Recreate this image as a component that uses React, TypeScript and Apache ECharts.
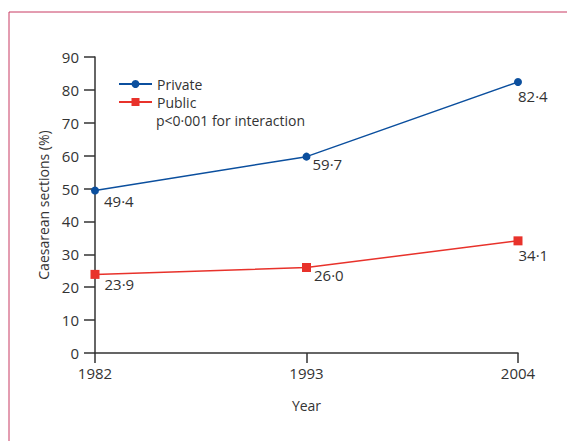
import React, { useEffect, useRef } from "react";
import * as echarts from "echarts";

const years = ["1982", "1993", "2004"];
const privateValues = [49.4, 59.7, 82.4];
const publicValues = [23.9, 26.0, 34.1];
const yTicks = { min: 0, max: 90, interval: 10 };

const fmt = (v: number) => v.toFixed(1).replace(".", "·");

const FONT = "'Open Sans', sans-serif";
const TEXT = "#333333";
const AXIS = "#333333";

export default function App() {
  const ref = useRef<HTMLDivElement>(null);
  useEffect(() => {
    document.body.style.margin = "0";
    const chart = echarts.init(ref.current!, null, { renderer: "svg" });
    const privOffsets = [[0, 10], [-3, 7], [-9, 14]];
    const pubOffsets = [[0, 10], [-2, 8], [-9, 14]];
    chart.setOption({
      animation: false,
      backgroundColor: "#ffffff",
      textStyle: { fontFamily: FONT, color: TEXT },
      grid: { left: 95, right: 49, top: 57, bottom: 88 },
      legend: {
        orient: "vertical",
        left: 113,
        top: 72,
        itemWidth: 33,
        itemHeight: 10,
        itemGap: 4,
        textStyle: { fontFamily: FONT, fontSize: 14, lineHeight: 14, color: TEXT },
        data: ["Private", "Public"],
      },
      graphic: [
        {
          type: "text",
          left: 156,
          top: 113,
          style: { text: "p<0·001 for interaction", fontFamily: FONT, fontSize: 14, lineHeight: 14, fill: TEXT },
        },
        { type: "line", shape: { x1: 9, y1: 12, x2: 567, y2: 12 }, style: { stroke: "#c83a62", lineWidth: 1 } },
        { type: "line", shape: { x1: 9, y1: 12, x2: 9, y2: 441 }, style: { stroke: "#c83a62", lineWidth: 1 } },
      ],
      xAxis: {
        type: "category",
        data: years,
        boundaryGap: false,
        name: "Year",
        nameLocation: "middle",
        nameGap: 45,
        nameTextStyle: { fontFamily: FONT, fontSize: 14, color: TEXT },
        axisLine: { lineStyle: { color: AXIS, width: 1.5 } },
        axisTick: { show: true, length: 10, inside: false, lineStyle: { color: AXIS, width: 1.5 } },
        axisLabel: { fontFamily: FONT, fontSize: 15, color: TEXT, margin: 12 },
        splitLine: { show: false },
      },
      yAxis: {
        type: "value",
        min: yTicks.min,
        max: yTicks.max,
        interval: yTicks.interval,
        name: "Caesarean sections (%)",
        nameLocation: "middle",
        nameGap: 43,
        nameTextStyle: { fontFamily: FONT, fontSize: 14, color: TEXT },
        axisLine: { show: true, lineStyle: { color: AXIS, width: 1.5 } },
        axisTick: { show: true, length: 11, lineStyle: { color: AXIS, width: 1.5 } },
        axisLabel: { fontFamily: FONT, fontSize: 15, color: TEXT, margin: 16 },
        splitLine: { show: false },
      },
      series: [
        {
          name: "Private",
          type: "line",
          data: privateValues.map((v, i) => ({
            value: v,
            label: { offset: privOffsets[i] },
          })),
          symbol: "circle",
          symbolSize: 8,
          color: "#0b4f9e",
          lineStyle: { color: "#0b4f9e", width: 1.5 },
          itemStyle: { color: "#0b4f9e" },
          label: {
            show: true,
            position: "right",
            fontFamily: FONT,
            fontSize: 15,
            color: TEXT,
            formatter: (p: any) => fmt(p.value),
          },
        },
        {
          name: "Public",
          type: "line",
          data: publicValues.map((v, i) => ({
            value: v,
            label: { offset: pubOffsets[i] },
          })),
          symbol: "rect",
          symbolSize: 9,
          color: "#e8322b",
          lineStyle: { color: "#e8322b", width: 1.5 },
          itemStyle: { color: "#e8322b" },
          label: {
            show: true,
            position: "right",
            fontFamily: FONT,
            fontSize: 15,
            color: TEXT,
            formatter: (p: any) => fmt(p.value),
          },
        },
      ],
    });
    return () => chart.dispose();
  }, []);
  return <div ref={ref} style={{ position: "absolute", left: 0, top: 0, width: 567, height: 441 }} />;
}
